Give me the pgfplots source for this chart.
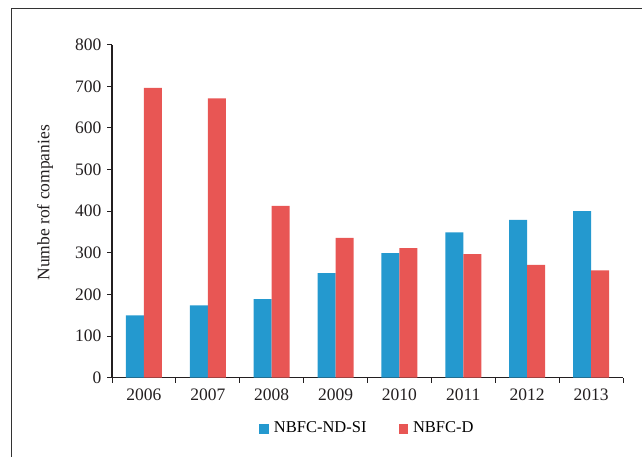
\documentclass[border=0pt]{standalone}
\usepackage{fontspec}
\setmainfont{Liberation Serif}
\usepackage{pgfplots}
\pgfplotsset{compat=1.18}

\definecolor{ndsi}{HTML}{2499CF}
\definecolor{nbfcd}{HTML}{E85654}
\definecolor{axisblack}{HTML}{231F20}

\begin{document}
\fontsize{16.5}{19}\selectfont
\begin{tikzpicture}
\useasboundingbox (0,0) rectangle (642pt,457pt);
% outer frame (only left and top edges show)
\draw[line width=1.3pt, black!80] (11.5pt,-5pt) -- (11.5pt,448.5pt) -- (650pt,448.5pt);
\begin{axis}[
    at={(112pt,79.3pt)}, anchor=south west,
    scale only axis,
    width=511pt, height=333pt,
    ymin=0, ymax=800,
    xmin=-0.5, xmax=7.5,
    axis x line*=bottom, axis y line*=left,
    axis line style={-, line width=1.5pt, axisblack},
    ytick={0,100,...,800},
    xtick={-0.5,0.5,...,7.5},
    xticklabels={},
    extra x ticks={0,1,2,3,4,5,6,7},
    extra x tick labels={2006,2007,2008,2009,2010,2011,2012,2013},
    extra x tick style={tick style={draw=none}},
    tick align=outside,
    major tick length=5pt,
    tick style={line width=1pt, axisblack},
    ticklabel style={font=\fontsize{17.5}{20}\selectfont, text=axisblack},
    /pgf/number format/assume math mode=true,
    ylabel={Numbe rof companies},
    ylabel style={font=\fontsize{17.5}{20}\selectfont, text=axisblack,
        at={(axis description cs:-0.131,0.525)}, anchor=center},
    ybar=0pt, bar width=18pt,
    legend style={at={(0.5,-0.1526)}, anchor=center, draw=none,
        font=\fontsize{16.5}{19}\selectfont, legend columns=2,
        /tikz/every odd column/.append style={column sep=3pt},
        /tikz/every even column/.append style={column sep=30pt}},
    legend image code/.code={\fill[#1] (0pt,-5pt) rectangle (9.5pt,4.5pt);},
]
\addplot[fill=ndsi, draw=none] coordinates {
    (0,150) (1,174) (2,189) (3,251) (4,299) (5,349) (6,379) (7,400)
};
\addplot[fill=nbfcd, draw=none] coordinates {
    (0,696) (1,671) (2,413) (3,336) (4,311) (5,297) (6,271) (7,258)
};
\legend{NBFC-ND-SI, NBFC-D}
\end{axis}
\end{tikzpicture}
\end{document}
